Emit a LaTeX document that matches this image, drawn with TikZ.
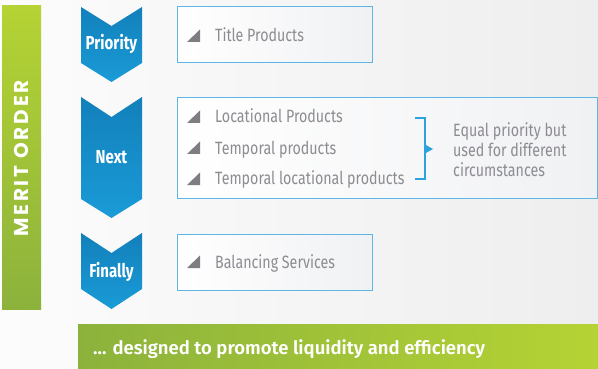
\documentclass[tikz,border=0pt]{standalone}
\usepackage{fontspec}
\setmainfont{Fira Sans}[FakeStretch=0.8]
\newfontfamily\boldcn{Fira Sans}[FakeStretch=0.8,UprightFont={* Bold}]
\newfontfamily\boldwide{Fira Sans}[UprightFont={* SemiBold}]
\newfontfamily\merit{Poppins}[UprightFont={* Bold},LetterSpace=14]
\definecolor{bgL}{HTML}{FCFCFC}
\definecolor{bgR}{HTML}{EEEEEF}
\definecolor{chevT}{HTML}{1280BB}
\definecolor{chevB}{HTML}{1A9BD7}
\definecolor{boxline}{HTML}{5DB6E6}
\definecolor{boxR}{HTML}{F0F1F3}
\definecolor{txtgray}{HTML}{8C8C92}
\definecolor{bulgray}{HTML}{7E7E82}
\definecolor{greenD}{HTML}{8CB23C}
\definecolor{greenL}{HTML}{B5D334}
\definecolor{brk}{HTML}{2CA3DC}
\tikzset{
  chev/.style={top color=chevT,bottom color=chevB,draw=none},
  chevlabel/.style={text=white,font=\boldcn\fontsize{18.8}{20}\selectfont,inner sep=0pt},
  itembox/.style={draw=boxline,line width=1pt,left color=white,right color=boxR},
  itemtext/.style={text=txtgray,font=\fontsize{17.8}{20}\selectfont,anchor=base west,inner sep=0pt},
  bul/.style={fill=bulgray,draw=none},
  brackline/.style={draw=brk,line width=1.4pt},
}
\newcommand{\bulletat}[2]{\fill[bul] (#1,#2) -- (#1+13,#2) -- (#1+13,#2-12.5) -- cycle;}
\begin{document}
\begin{tikzpicture}[x=1pt,y=-1pt]
\useasboundingbox (0,0) rectangle (598,369);
\shade[left color=bgL,right color=bgR] (0,0) rectangle (598,369);
% left green bar
\shade[top color=greenL,bottom color=greenD] (2,6) rectangle (41,309);
\node[rotate=90,text=white,font=\merit\fontsize{20}{22}\selectfont,inner sep=0pt] (merit) at (21.5,158.5) {MERIT ORDER};
% bottom green bar
\shade[left color=greenD,right color=greenL] (78,324) rectangle (598,368);
\node[text=white,font=\boldwide\fontsize{18.5}{20}\selectfont,anchor=base west,inner sep=0pt] (slogan) at (93,354) {... designed to promote liquidity and efficiency};
% chevrons
\shade[chev] (81,7) -- (111.5,26) -- (142,7) -- (142,63) -- (111.5,82) -- (81,63) -- cycle;
\node[chevlabel] (prio) at (111.5,44) {Priority};
\shade[chev] (81,97) -- (111.5,117) -- (142,97) -- (142,199) -- (111.5,218) -- (81,199) -- cycle;
\node[chevlabel] (next) at (111.5,157) {Next};
\shade[chev] (81,233) -- (111.5,253) -- (142,233) -- (142,289) -- (111.5,309) -- (81,289) -- cycle;
\node[chevlabel] (fin) at (111.5,271.5) {Finally};
% boxes
\draw[itembox] (177,7) rectangle (372,63);
\draw[itembox] (177,98) rectangle (597,198);
\draw[itembox] (177,234) rectangle (372,290);
% items
\bulletat{187}{42}
\node[itemtext] (t1) at (215,42) {Title Products};
\bulletat{187}{123}
\node[itemtext] (t2) at (215,123) {Locational Products};
\bulletat{187}{154}
\node[itemtext] (t3) at (215,154) {Temporal products};
\bulletat{187}{185}
\node[itemtext] (t4) at (215,185) {Temporal locational products};
\bulletat{187}{268}
\node[itemtext] (t5) at (215,268) {Balancing Services};
% bracket
\coordinate (bt) at (415,118);
\coordinate (bb) at (415,179);
\draw[brackline] (bt) -- (425,118) -- (425,179) -- (bb);
\fill[brk] (425,144.5) -- (433,149) -- (425,153.5) -- cycle;
\node[itemtext] (eq1) at (453,136.5) {Equal priority but};
\node[itemtext] (eq2) at (453,156.5) {used for different};
\node[itemtext] (eq3) at (453,176.5) {circumstances};
\end{tikzpicture}
\end{document}
